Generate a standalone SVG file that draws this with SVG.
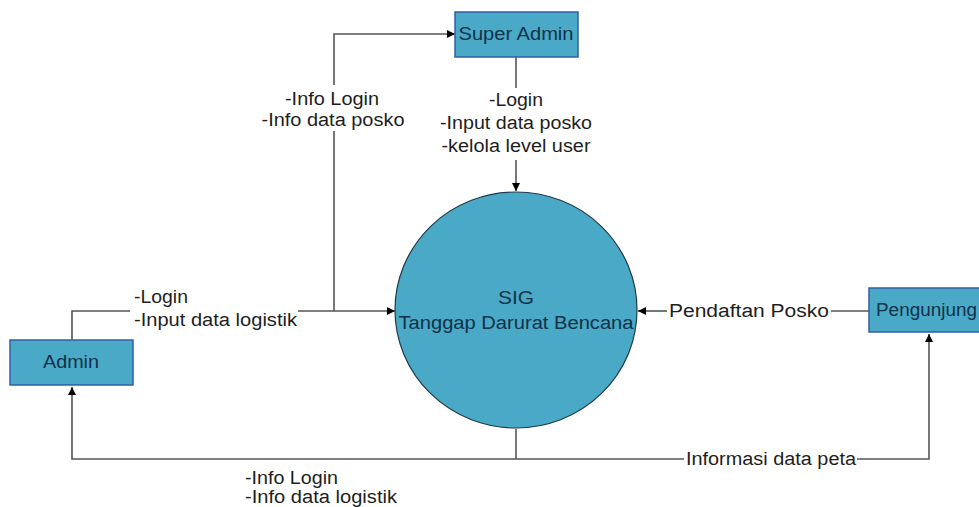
<svg xmlns="http://www.w3.org/2000/svg" width="979" height="507" viewBox="0 0 979 507">
<style>
.box{fill:#4aa9c6;stroke:#2f5fa8;stroke-width:1.5}
.proc{fill:#4aa9c6;stroke:#1e3a4a;stroke-width:1.2}
text{lengthAdjust:spacingAndGlyphs}
.nt{font-family:"Liberation Sans",Arial,sans-serif;font-size:18px;fill:#10324a}
.lt{font-family:"Liberation Sans",Arial,sans-serif;font-size:18px;fill:#1e1e1e}
.ln{fill:none;stroke:#555;stroke-width:1.6}
</style>
<defs>
<marker id="ah" viewBox="0 0 10 10" refX="10" refY="5" markerWidth="9" markerHeight="8" markerUnits="userSpaceOnUse" orient="auto">
<path d="M0,0 L10,5 L0,10 z" fill="#000"/>
</marker>
</defs>
<rect width="979" height="507" fill="#fff"/>
<g id="connectors">
<path class="ln" d="M516,57 V88"/>
<path class="ln" d="M516,160 V191" marker-end="url(#ah)"/>
<path class="ln" d="M72,340 V311 H130"/>
<path class="ln" d="M298,311 H395" marker-end="url(#ah)"/>
<path class="ln" d="M334,311 V131"/>
<path class="ln" d="M334,85 V34 H455" marker-end="url(#ah)"/>
<path class="ln" d="M869,311 H831"/>
<path class="ln" d="M667,311 H638" marker-end="url(#ah)"/>
<path class="ln" d="M516,429 V459"/>
<path class="ln" d="M684,459 H72 V387" marker-end="url(#ah)"/>
<path class="ln" d="M857,459 H929 V334" marker-end="url(#ah)"/>
</g>
<g id="labels">
<text class="lt" x="516" y="106" text-anchor="middle" textLength="54" lengthAdjust="spacingAndGlyphs">-Login</text>
<text class="lt" x="516" y="129" text-anchor="middle" textLength="152" lengthAdjust="spacingAndGlyphs">-Input data posko</text>
<text class="lt" x="516" y="152" text-anchor="middle" textLength="149" lengthAdjust="spacingAndGlyphs">-kelola level user</text>
<text class="lt" x="332" y="105" text-anchor="middle" textLength="94" lengthAdjust="spacingAndGlyphs">-Info Login</text>
<text class="lt" x="333" y="126" text-anchor="middle" textLength="143" lengthAdjust="spacingAndGlyphs">-Info data posko</text>
<text class="lt" x="134" y="303" textLength="54" lengthAdjust="spacingAndGlyphs">-Login</text>
<text class="lt" x="134" y="326" textLength="163" lengthAdjust="spacingAndGlyphs">-Input data logistik</text>
<text class="lt" x="669" y="317" textLength="160" lengthAdjust="spacingAndGlyphs">Pendaftan Posko</text>
<text class="lt" x="686" y="465" textLength="170" lengthAdjust="spacingAndGlyphs">Informasi data peta</text>
<text class="lt" x="245" y="484" textLength="93" lengthAdjust="spacingAndGlyphs">-Info Login</text>
<text class="lt" x="245" y="503" textLength="152" lengthAdjust="spacingAndGlyphs">-Info data logistik</text>
</g>
<g id="super-admin">
<rect class="box" x="455" y="12" width="123" height="45"/>
<text class="nt" x="516" y="40" text-anchor="middle" textLength="115" lengthAdjust="spacingAndGlyphs">Super Admin</text>
</g>
<g id="admin">
<rect class="box" x="10" y="340" width="123" height="45"/>
<text class="nt" x="71" y="368" text-anchor="middle" textLength="56" lengthAdjust="spacingAndGlyphs">Admin</text>
</g>
<g id="pengunjung">
<rect class="box" x="869" y="288" width="130" height="44"/>
<text class="nt" x="876" y="316" textLength="101" lengthAdjust="spacingAndGlyphs">Pengunjung</text>
</g>
<g id="sig">
<ellipse class="proc" cx="516" cy="310" rx="121" ry="118"/>
<text class="nt" x="516" y="304" text-anchor="middle" font-size="19" textLength="36" lengthAdjust="spacingAndGlyphs">SIG</text>
<text class="nt" x="516" y="329" text-anchor="middle" font-size="19" textLength="235" lengthAdjust="spacingAndGlyphs">Tanggap Darurat Bencana</text>
</g>
</svg>
